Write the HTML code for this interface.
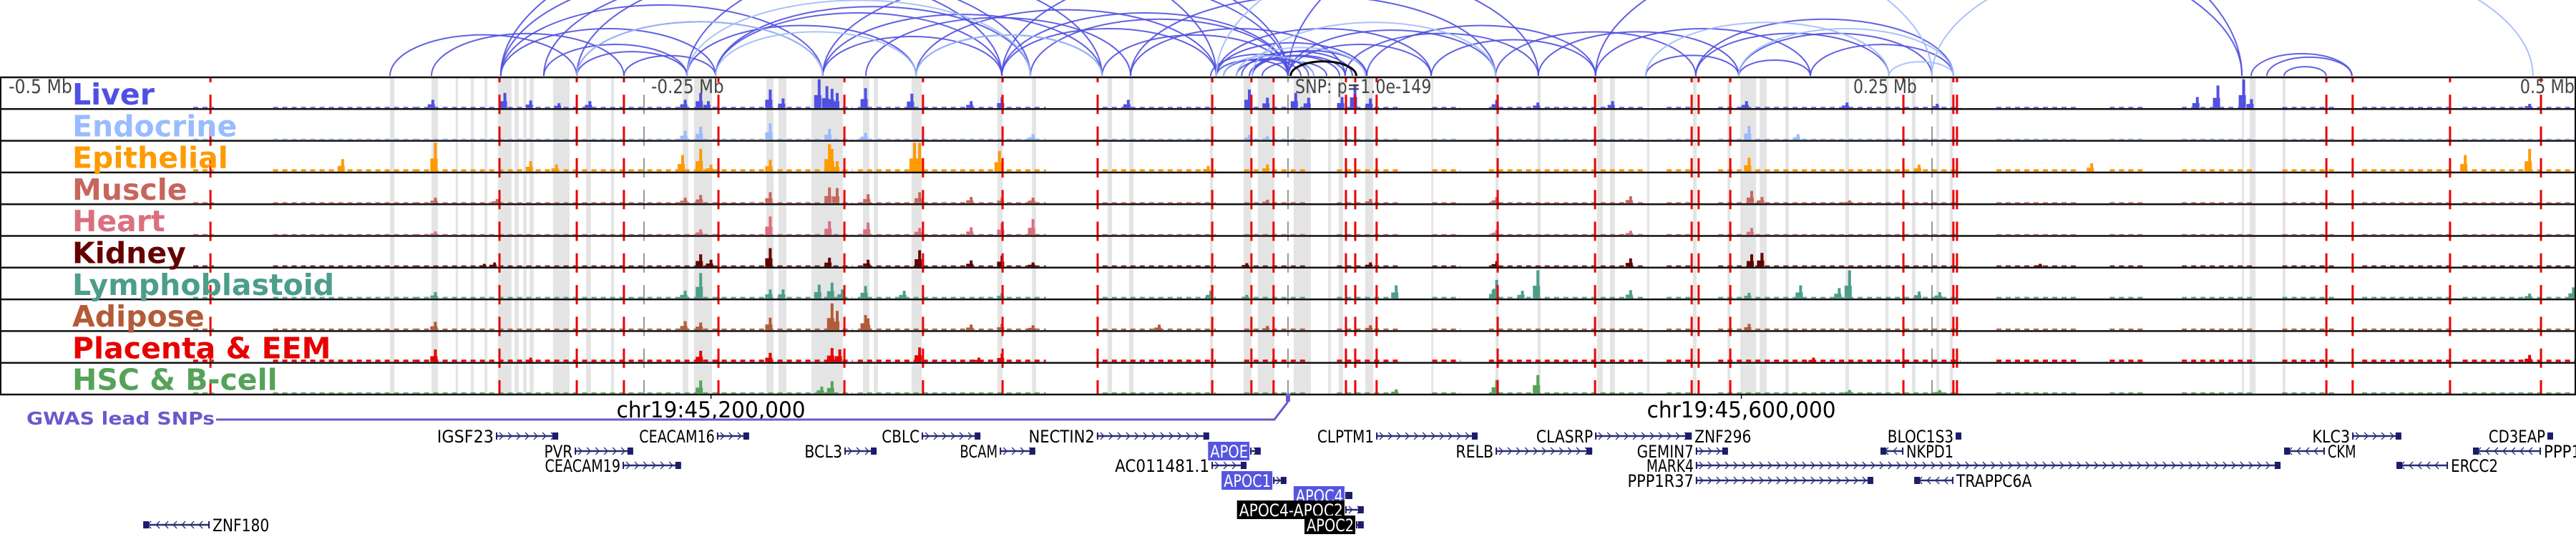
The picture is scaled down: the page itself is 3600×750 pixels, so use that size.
<!DOCTYPE html>
<html><head><meta charset="utf-8"><style>
body{margin:0;background:#fff}svg{display:block}
text{font-family:"DejaVu Sans","Liberation Sans",sans-serif}
</style></head><body>
<svg id="c" width="3600" height="750" xmlns="http://www.w3.org/2000/svg"></svg>
<script>
// ---------- DATA (positions in kb relative to lead SNP, signal in arbitrary units, max 42) ----------
const trackNames=["Liver","Endocrine","Epithelial","Muscle","Heart","Kidney","Lymphoblastoid","Adipose","Placenta & EEM","HSC & B-cell"];
const trackColors=["#5050e3","#99bbff","#ff9a00","#c6665c","#db6f7f","#650000","#4c9e8b","#b35b39","#e60000","#56a259"];
const trackBase=[1.5,1.5,3,1.5,1.2,1.5,2,2,3,1.5];
const peaksLiver=[[-332,12],[-304,22],[-294,11],[-283,7],[-271,10],[-234,12],[-228,22],[-225,10],[-201,27],[-196,14],[-182,42],[-179,32],[-177,28],[-175,22],[-164,29],[-146,21],[-123,10],[-111,16],[-62,12],[-15,27],[-8,15],[3,22],[8,15],[21,16],[26,35],[32,14],[81,12],[97,8],[126,10],[178,10],[217,8],[252,6],[353,16],[361,33],[371,42],[374,13],[482,6]];
const peaksEndocrine=[[-234,13],[-228,19],[-201,24],[-178,16],[-164,10],[-99,8],[-15,7],[-8,5],[179,20],[198,8]];
const peaksEpithelial=[[-367,18],[-331,42],[-294,15],[-284,10],[-235,24],[-228,33],[-224,10],[-201,17],[-178,40],[-177,33],[-175,15],[-145,42],[-143,42],[-112,30],[-31,8],[-8,10],[179,20],[245,10],[312,12],[457,24],[482,33]];
const peaksMuscle=[[-331,8],[-307,6],[-234,8],[-228,12],[-201,16],[-178,23],[-175,22],[-163,13],[-143,16],[-123,9],[-111,8],[-99,8],[-8,5],[32,6],[81,9],[133,10],[180,18],[184,9],[218,4]];
const peaksHeart=[[-331,5],[-228,8],[-201,27],[-178,20],[-163,18],[-143,10],[-123,11],[-111,17],[-99,23],[81,7],[133,6],[180,10]];
const peaksKidney=[[-312,4],[-308,6],[-228,18],[-224,10],[-201,27],[-178,13],[-163,10],[-143,24],[-123,9],[-111,16],[-99,6],[-16,5],[32,6],[81,8],[133,12],[180,18],[184,20],[292,4]];
const peaksLymph=[[-331,9],[-234,11],[-228,37],[-201,13],[-196,13],[-182,20],[-177,23],[-173,13],[-164,18],[-149,11],[-111,8],[-30,11],[-16,5],[42,19],[80,14],[81,27],[91,11],[97,41],[133,12],[179,8],[199,19],[214,15],[218,41],[245,10],[253,9],[482,7],[499,16]];
const peaksAdipose=[[-331,12],[-234,13],[-228,11],[-201,18],[-177,39],[-175,28],[-164,22],[-163,17],[-123,8],[-111,9],[-99,7],[-50,8],[-8,6],[32,7],[179,9]];
const peaksPlacenta=[[-331,18],[-294,6],[-228,16],[-201,13],[-177,20],[-174,18],[-143,21],[-120,6],[-111,12],[204,6],[482,10]];
const peaksHSC=[[-228,19],[-181,10],[-177,18],[42,6],[81,20],[97,27],[218,5],[253,5]];
const lowRegions=[[-425,-417],[-394,-339],[-339,-169],[-167,-94],[-72,-28],[-17,8],[19,44],[56,67],[78,139],[147,158],[167,261],[275,306],[319,333],[347,375],[386,406],[417,453],[456,500]];
const grayBands=[[-348.6,-346.9],[-332.5,-330],[-323.1,-322.2],[-317.2,-316.1],[-311.9,-310.8],[-306.7,-301.4],[-300.3,-298.6],[-296.9,-295.6],[-294.4,-292.8],[-285.3,-278.9],[-272.5,-270.6],[-262.8,-261.7],[-235,-232.8],[-230.6,-223.6],[-202.5,-199.7],[-197.8,-194.7],[-185,-172.8],[-165,-162.5],[-160.8,-159.2],[-146.1,-142.2],[-112.8,-110.8],[-99.4,-97.8],[-70,-68.3],[-61.7,-60],[-30.3,-29.2],[-17.2,-14.2],[-11.7,-5.3],[2.2,8.9],[15.6,16.7],[19.7,21.4],[30,33.1],[55.6,56.4],[80.6,81.7],[96.9,98.1],[120,122.2],[125,126.9],[139.4,140.3],[157.2,158.6],[170.6,171.7],[175.6,181.7],[183.1,185.8],[193.1,194.4],[216.4,217.8],[231.9,233.1],[242.2,243.6],[251.7,252.8],[256.9,258.1],[370.3,371.1],[373.3,375.6],[386.1,387.2]];
const redLines=[-418.3,-306.1,-276.1,-257.8,-221.1,-172.2,-141.7,-110.8,-73.9,-29.4,-14.2,-5.6,22.5,26.1,34.4,81.4,119.2,156.7,159.4,171.7,238.9,258.3,259.7,403.1,413.3,451.1,486.4];
const arcStart=[-348.6,-332.5,-305.6,-305.6,-288.9,-276.1,-276.1,-257.8,-305.6,-288.9,-276.1,-233.3,-222.2,-222.2,-180.6,-180.6,-163.9,-144.4,-144.4,-111.1,-111.1,-100,-72.2,-61.1,-27.8,-13.9,-27.8,-13.9,0,0,-27.8,22.2,30.6,55.6,80.6,97.2,119.4,138.9,158.3,158.3,175,175,202.8,-61.1,-111.1,0,119.4,373.9,386.7,380,-180.6,-233.3,-305.6,-20,-25,-15,-10,-30,-18,
 -276.1,-233.3,-222.2,-27.8,138.9,233.3,175,250,-144.4,-13.9,-25,-20];
const arcEnd=[-276.1,-257.8,-222.2,-180.6,-233.3,-233.3,-180.6,-222.2,-111.1,-100,-72.2,-144.4,-111.1,-100,-111.1,-72.2,-61.1,-72.2,-27.8,-27.8,0,0,0,22.2,30.6,22.2,0,30.6,55.6,80.6,55.6,97.2,119.4,119.4,158.3,175,202.8,175,233.3,258.3,250,202.8,258.3,80.6,97.2,370.3,370.3,413,403,413,0,0,-27.8,10,5,20,15,8,25,
 -180.6,-100,-144.4,250,233.3,258.3,258.3,483.3,-72.2,80.6,10,30];
const arcLight=[0,0,0,0,0,0,0,0,0,0,0,0,0,0,0,0,0,0,0,0,0,0,0,0,0,0,0,0,0,0,0,0,0,0,0,0,0,0,0,0,0,0,0,0,0,0,0,0,0,0,0,0,0,0,0,0,0,0,0,
 1,1,1,1,1,1,1,1,1,1,1,1];
const leadArc=[1,26.5];
const axisTicks=[-250,0,250];
const genes=[
 ["IGSF23",0,-307.5,-283.3,1,"L",0],["CEACAM16",0,-221.7,-209.2,1,"L",0],["CBLC",0,-142.2,-119.4,1,"L",0],["NECTIN2",0,-74.2,-30.6,1,"L",0],
 ["CLPTM1",0,34.2,73.6,1,"L",0],["CLASRP",0,119.2,156.4,1,"L",0],["ZNF296",0,155,156.7,-1,"R",0],["BLOC1S3",0,259.2,261.4,1,"L",0],
 ["KLC3",0,413.1,432.2,1,"L",0],["CD3EAP",0,488.9,491.1,1,"L",0],
 ["PVR",1,-276.9,-254.2,1,"L",0],["BCL3",1,-172.2,-159.7,1,"L",0],["BCAM",1,-111.9,-98.1,1,"L",0],["APOE",1,-14.7,-10.6,1,"L",1],
 ["RELB",1,80.6,118.1,1,"L",0],["GEMIN7",1,158.3,170.8,1,"L",0],["NKPD1",1,230,238.9,-1,"R",0],["CKM",1,386.7,402.5,-1,"R",0],["PPP1R13L",1,460,486.4,-1,"R",0],
 ["CEACAM19",2,-258.3,-235.6,1,"L",0],["AC011481.1",2,-29.7,-16.1,1,"L",0],["MARK4",2,158.3,385.3,1,"L",0],["ERCC2",2,430.3,450.3,-1,"R",0],
 ["APOC1",3,-5.8,-0.6,1,"L",1],["PPP1R37",3,158.3,227.2,1,"L",0],["TRAPPC6A",3,243.1,258.3,-1,"R",0],
 ["APOC4",4,22.2,25,1,"L",1],["APOC4-APOC2",5,22.2,29.4,1,"L",2],["APOC2",6,26.4,29.4,1,"L",2],["ZNF180",6,-444.4,-418.6,-1,"R",0]
];
const coordLabels=[[-224,"chr19:45,200,000"],[176,"chr19:45,600,000"]];

// ---------- helpers ----------
const NS="http://www.w3.org/2000/svg";
const svg=document.getElementById("c");
const X=kb=>1800+kb*3.6;
const TOP=108, TH=44.3;
function mk(tag,attrs,parent){const e=document.createElementNS(NS,tag);for(const k in attrs)e.setAttribute(k,attrs[k]);(parent||svg).appendChild(e);return e;}

// ---------- arcs ----------
const arcG=mk("g",{});


const ARCY=106;
for(let i=0;i<arcStart.length;i++){
  const x1=X(arcStart[i]),x2=X(arcEnd[i]);const rx=(x2-x1)/2, ry=Math.max(4,rx*2*0.22);
  const p=mk("path",{d:`M${x1},${ARCY} A${rx},${ry} 0 0 1 ${x2},${ARCY}`,fill:"none",stroke:arcLight[i]?"#9fbdf7":"#5050e0","stroke-width":2,"stroke-opacity":0.9},arcG);
  
  
}
{const x1=X(leadArc[0]),x2=X(leadArc[1]),rx=(x2-x1)/2;
 const p=mk("path",{d:`M${x1},${ARCY} A${rx},${rx*2*0.22} 0 0 1 ${x2},${ARCY}`,fill:"none",stroke:"#000","stroke-width":3},arcG);
 
 }

// ---------- gray bands ----------
const bandG=mk("g",{});


grayBands.forEach(b=>{
  const r=mk("rect",{x:X(b[0]),y:TOP,width:Math.max(2,X(b[1])-X(b[0])),height:TH*10,fill:"#e4e4e4"},bandG);
  
  
});

// ---------- tracks ----------
const allPeaks=[peaksLiver,peaksEndocrine,peaksEpithelial,peaksMuscle,peaksHeart,peaksKidney,peaksLymph,peaksAdipose,peaksPlacenta,peaksHSC];
const trackSlug=["liver","endocrine","epithelial","muscle","heart","kidney","lymphoblastoid","adipose","placenta","hsc-bcell"];
for(let t=0;t<10;t++){
  const g=mk("g",{});
  
  
  const base=TOP+(t+1)*TH-1.5;
  lowRegions.forEach(r=>{
    const e=mk("line",{x1:X(r[0]),x2:X(r[1]),y1:base-trackBase[t]/2,y2:base-trackBase[t]/2,stroke:trackColors[t],"stroke-width":trackBase[t],"stroke-dasharray":"7 6"},g);
    
    
  });
  allPeaks[t].forEach(p=>{
    const h=p[1]*40/42;
    const e=mk("rect",{x:X(p[0])-2,y:base-h,width:4,height:h,fill:trackColors[t]},g);
    
    
    const h2=h*0.45;
    const s=mk("rect",{x:X(p[0])-7,y:base-h2,width:10,height:h2,fill:trackColors[t]},g);
    
    
  });
}

// ---------- axis tick lines (gray dashed) ----------
axisTicks.forEach(k=>{
  const l=mk("line",{x1:X(k),x2:X(k),y1:TOP,y2:TOP+TH*10,stroke:"#777","stroke-width":1.5,"stroke-dasharray":"27 17.3","stroke-dashoffset":20});
  
  
});
// ---------- red dashed lines ----------
redLines.forEach(k=>{
  const l=mk("line",{x1:X(k),x2:X(k),y1:TOP,y2:TOP+TH*10,stroke:"#ee0000","stroke-width":3,"stroke-dasharray":"27 17.3","stroke-dashoffset":20});
  
  
});

// ---------- borders + labels ----------
for(let t=0;t<=10;t++){
  const y=TOP+t*TH;
  const l=mk("line",{x1:0,x2:3600,y1:y,y2:y,stroke:"#111","stroke-width":2.5});
  
  
}
{const r=mk("rect",{x:1,y:TOP,width:3598,height:TH*10,fill:"none",stroke:"#111","stroke-width":2});
 
 }
for(let t=0;t<10;t++){
  const tx=mk("text",{x:101,y:TOP+t*TH+38,fill:trackColors[t],"font-size":41,"font-weight":"bold"});
  tx.textContent=trackNames[t];
  
  
}
const axisLabels=[[-500,"-0.5 Mb","start",12],[-250,"-0.25 Mb","start",10],[0,"SNP: p=1.0e-149","start",10],[250,"0.25 Mb","start",-110],[500,"0.5 Mb","end",-2]];
axisLabels.forEach(a=>{
  const x=a[0]===-500?12:X(a[0])+a[3];
  const tx=mk("text",{x:x,y:130,fill:"#444","font-size":27,"text-anchor":a[2],textLength:a[1].length*12.7,lengthAdjust:"spacingAndGlyphs"});
  tx.textContent=a[1];
  
  
});

// ---------- coordinate ticks ----------
coordLabels.forEach(c=>{
  const l=mk("line",{x1:X(c[0]),x2:X(c[0]),y1:551,y2:557,stroke:"#000","stroke-width":1.5});
  
  
  const tx=mk("text",{x:X(c[0]),y:583,"font-size":31,"text-anchor":"middle",fill:"#000",textLength:264,lengthAdjust:"spacingAndGlyphs"});
  tx.textContent=c[1];
  
  
});

// ---------- GWAS ----------
{const tx=mk("text",{x:37,y:593,"font-size":25,"font-weight":"bold",fill:"#6a5acd",textLength:263,lengthAdjust:"spacingAndGlyphs"});
 tx.textContent="GWAS lead SNPs";
 
 
 const p=mk("path",{d:`M302,586 L${X(-5.3)},586 L${X(0)},561`,fill:"none",stroke:"#6a5acd","stroke-width":3});
 
 
 const r=mk("rect",{x:X(0)-3,y:550,width:6,height:11,fill:"#6a5acd"});
 
 }

// ---------- genes ----------
const rowY=[609,630,650,671,692,712,733];
genes.forEach(g=>{
  const [name,row,s,e,strand,side,hl]=g;
  const y=rowY[row],x1=X(s),x2=X(e);
  const gg=mk("g",{});
  
  
  mk("line",{x1:x1,x2:x2,y1:y,y2:y,stroke:"#2c2c78","stroke-width":2.5},gg);
  for(let x=x1+8;x<x2-4;x+=12){
    const d=strand>0?`M${x-3},${y-5} L${x+2},${y} L${x-3},${y+5}`:`M${x+3},${y-5} L${x-2},${y} L${x+3},${y+5}`;
    mk("path",{d:d,fill:"none",stroke:"#2c2c78","stroke-width":1.3},gg);
  }
  const bw=Math.min(8,Math.max(3,x2-x1));
  mk("rect",{x:strand>0?x2-bw:x1,y:y-5,width:bw,height:10,fill:"#1c1c6a"},gg);
  mk("rect",{x:strand>0?x1:x2-2,y:y-5,width:2,height:10,fill:"#1c1c6a"},gg);
  const fs=24, w=name.length*13.2;
  let tx;
  if(side==="L"){
    if(hl){mk("rect",{x:x1-3-w-3,y:y-13,width:w+5,height:26,fill:hl===1?"#5555e0":"#000"},gg);}
    tx=mk("text",{x:x1-3-w,y:y+9,"font-size":fs,fill:hl?"#fff":"#000",textLength:w,lengthAdjust:"spacingAndGlyphs"},gg);
  }else{
    tx=mk("text",{x:x2+4,y:y+9,"font-size":fs,fill:"#000",textLength:w,lengthAdjust:"spacingAndGlyphs"},gg);
  }
  tx.textContent=name;
  
  
});
</script>
</body></html>
